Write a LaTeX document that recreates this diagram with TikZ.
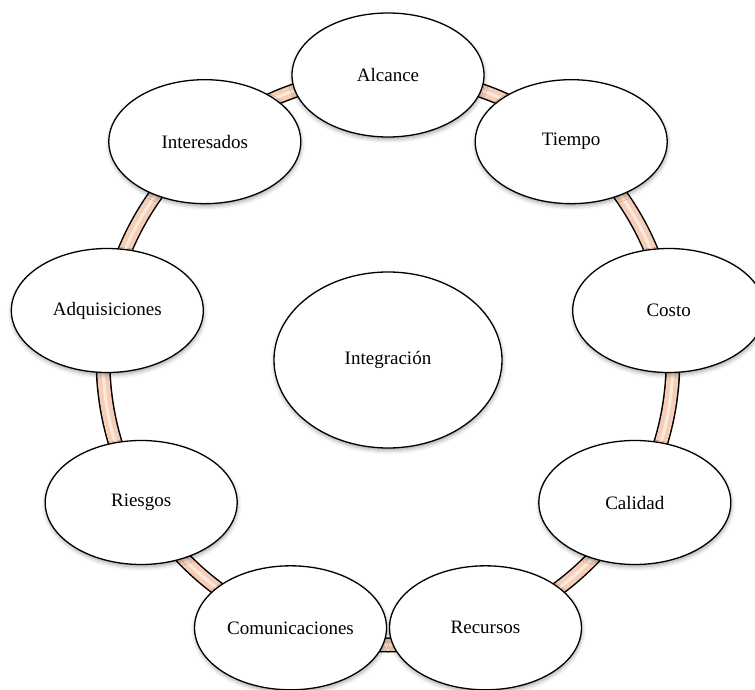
\documentclass[tikz,border=0pt]{standalone}
\usepackage{fontspec}
\setmainfont{Liberation Serif}
\usetikzlibrary{calc,shapes.geometric,shadows.blur}
\definecolor{bandfill}{HTML}{F6CDB7}
\definecolor{bandlight}{HTML}{FDF0E8}
\tikzset{
  area/.style={ellipse, draw=black, line width=1.3pt, fill=white,
    minimum width=192pt, minimum height=124pt, inner sep=0pt,
    font=\fontsize{19}{22}\selectfont,
    blur shadow={shadow xshift=0.5pt, shadow yshift=-2.5pt,
      shadow blur radius=4pt, shadow opacity=35}},
  core/.style={area, minimum width=228pt, minimum height=176pt}
}
\begin{document}
\begin{tikzpicture}[x=1pt,y=1pt]
  \useasboundingbox (0,0) rectangle (755,689);
  \clip (0,0) rectangle (755,689);
  \coordinate (c) at (388,329);
  % ring joining the knowledge areas
  \draw[black, line width=15pt] (c) circle[radius=285];
  \draw[bandfill, line width=12pt] (c) circle[radius=285];
  \draw[bandlight, line width=3pt, opacity=0.8] (c) circle[radius=285];
  % knowledge areas around the ring
  \node[area] (alcance)   at ($(c)+(90:285)$)   {Alcance};
  \node[area] (tiempo)    at ($(c)+(50:285)$)   {Tiempo};
  \node[area] (costo)     at ($(c)+(10:285)$)   {Costo};
  \node[area] (calidad)   at ($(c)+(-30:285)$)  {Calidad};
  \node[area] (recursos)  at ($(c)+(-70:285)$)  {Recursos};
  \node[area] (comunic)   at ($(c)+(-110:285)$) {Comunicaciones};
  \node[area] (riesgos)   at ($(c)+(-150:285)$) {Riesgos};
  \node[area] (adquis)    at ($(c)+(170:285)$)  {Adquisiciones};
  \node[area] (interes)   at ($(c)+(130:285)$)  {Interesados};
  % central area
  \node[core] (integra) at (c) {Integración};
\end{tikzpicture}
\end{document}
